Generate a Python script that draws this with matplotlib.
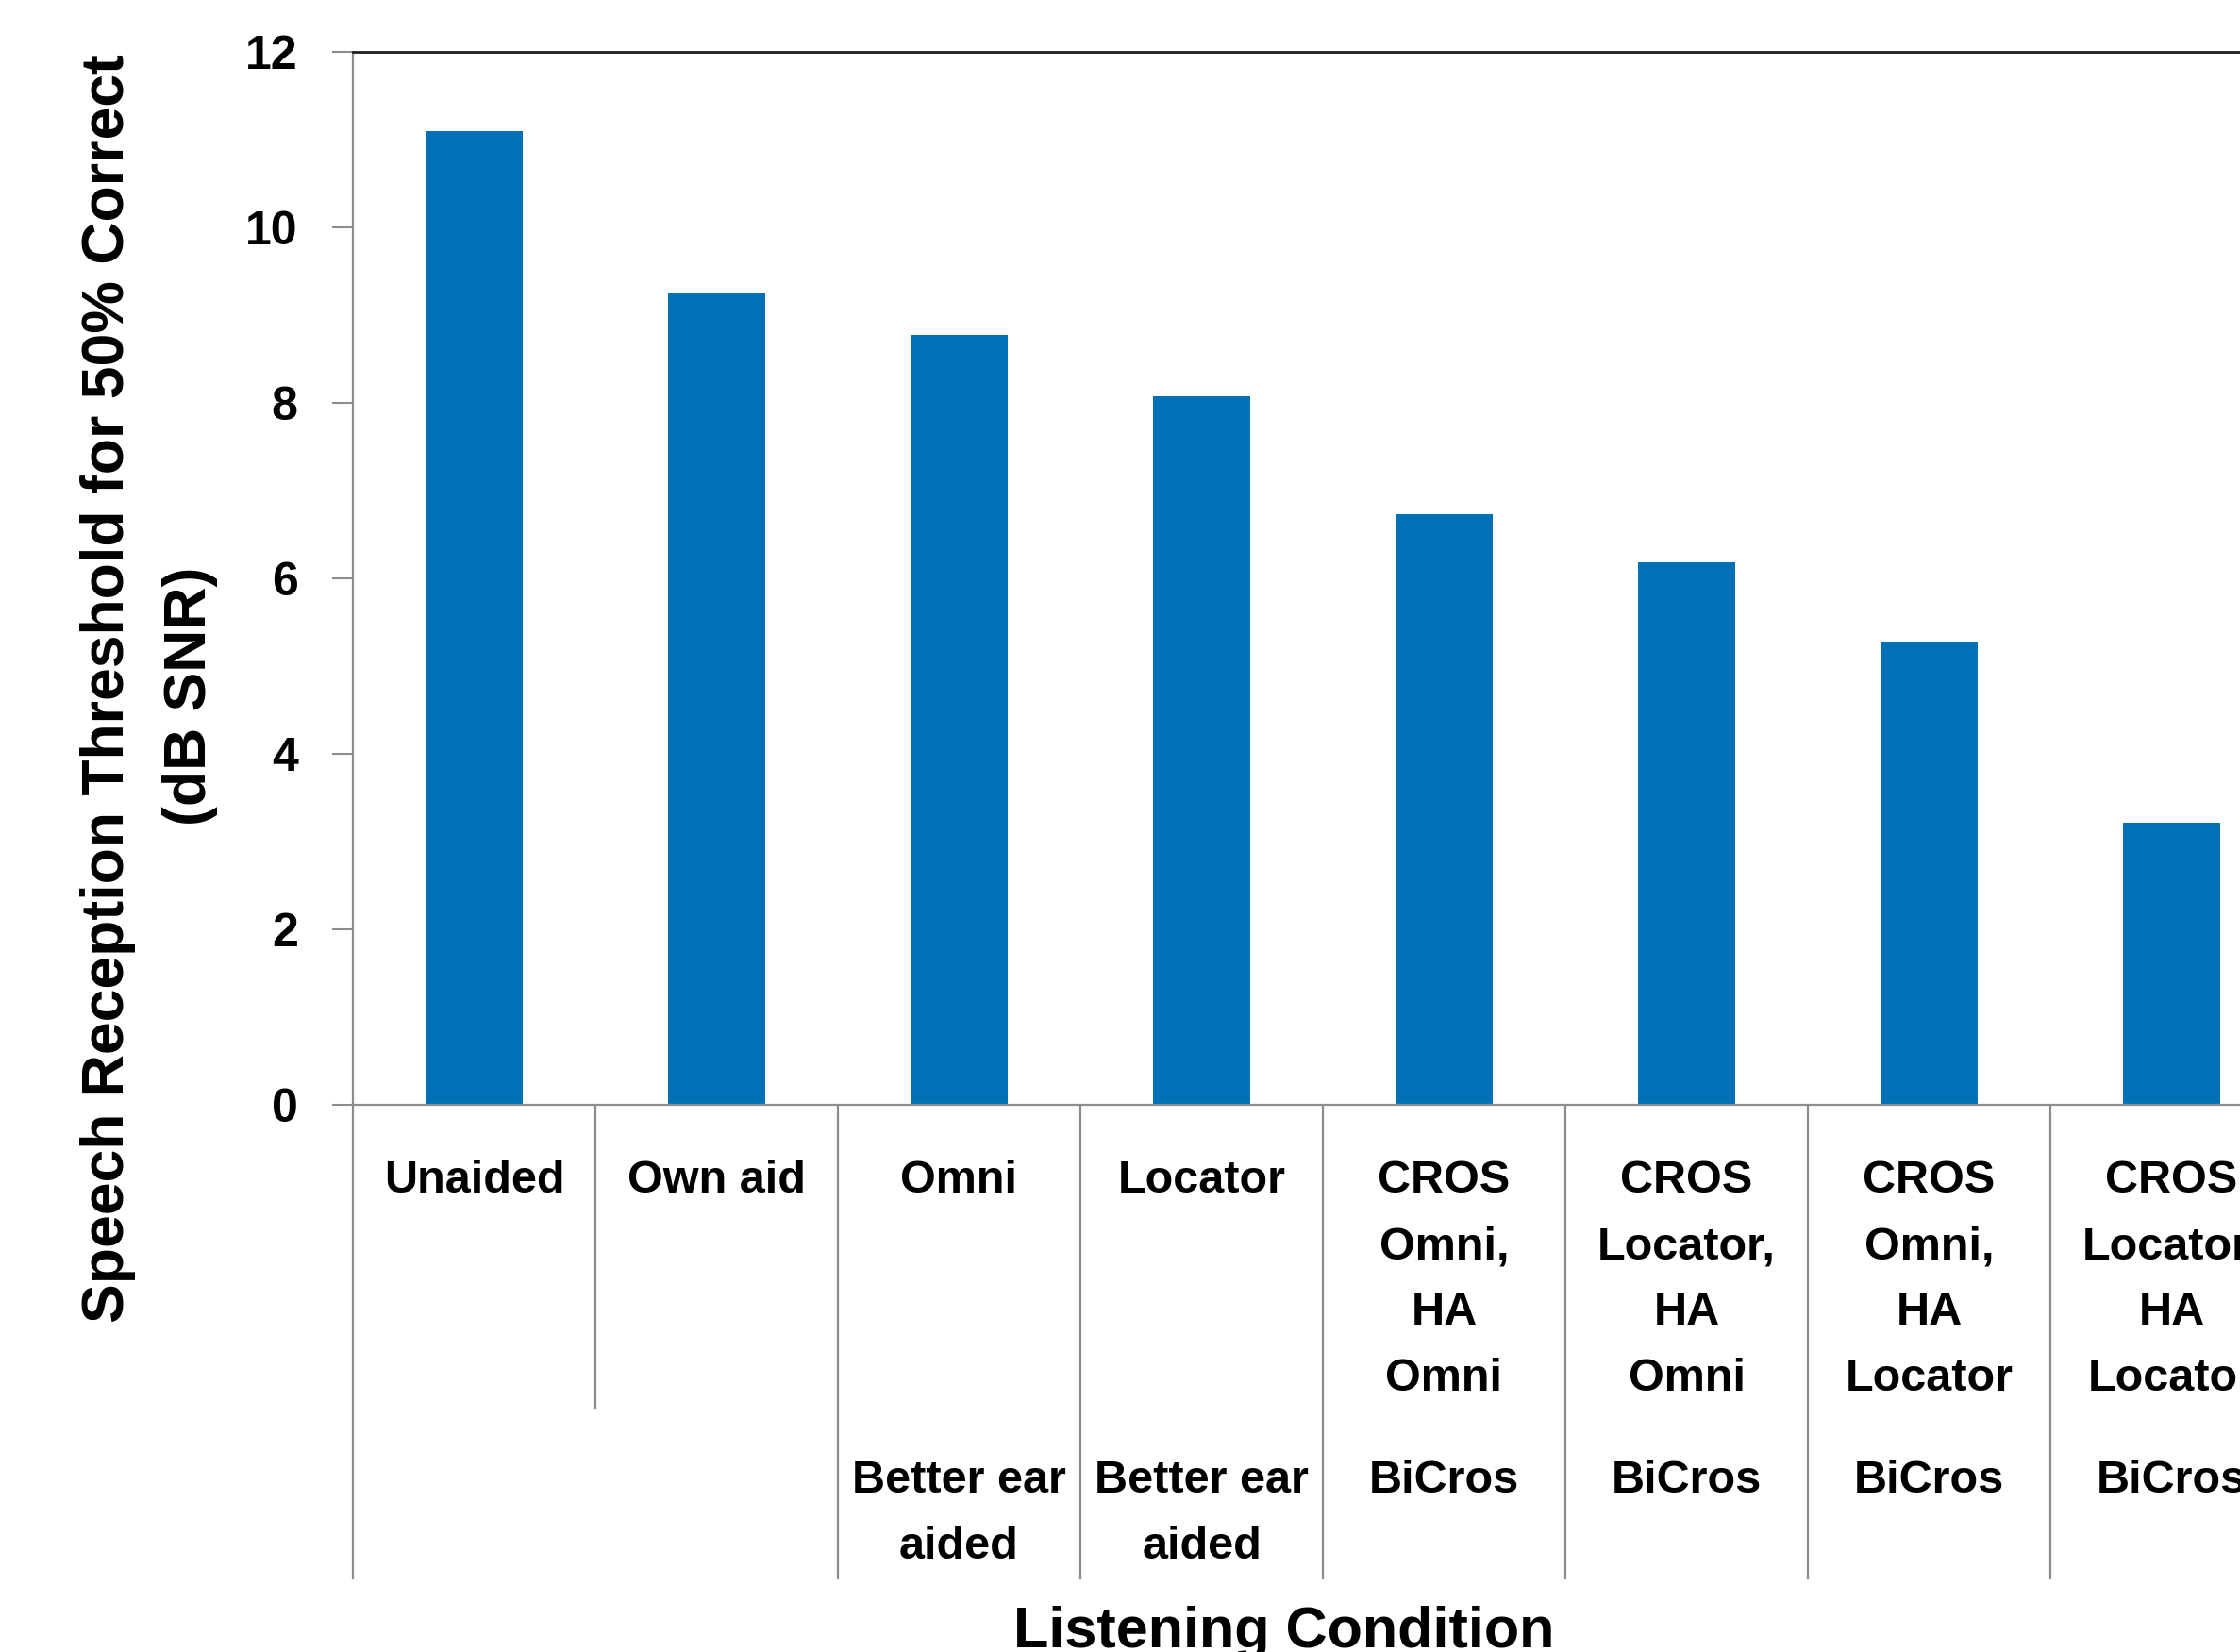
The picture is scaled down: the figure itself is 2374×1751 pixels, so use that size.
import matplotlib
matplotlib.use("Agg")
import matplotlib.pyplot as plt
import matplotlib.transforms as mtransforms

# data
conditions = [
    "Unaided", "Own aid", "Omni", "Locator",
    "CROS\nOmni,\nHA\nOmni", "CROS\nLocator,\nHA\nOmni",
    "CROS\nOmni,\nHA\nLocator", "CROS\nLocator,\nHA\nLocator",
]
# second-level category groups: (label, number of conditions spanned)
groups = [
    ("", 2),
    ("Better ear\naided", 1),
    ("Better ear\naided", 1),
    ("BiCros", 1), ("BiCros", 1), ("BiCros", 1), ("BiCros", 1),
]
srt_db = [11.1, 9.25, 8.77, 8.07, 6.73, 6.18, 5.28, 3.22]
y_ticks = [0, 2, 4, 6, 8, 10, 12]

BAR_COLOR = "#0071b7"
GREY = "#8c8c8c"
FONT = "Liberation Sans"

W, H = 2374, 1751
fig = plt.figure(figsize=(W / 100, H / 100), dpi=100)
fig.patch.set_facecolor("white")


def fy(px):
    # pixel row (from top) -> figure fraction
    return 1 - px / H


ax = fig.add_axes([374 / W, fy(1171), 2056 / W, fy(55) - fy(1171)])

x = list(range(len(conditions)))
ax.bar(x, srt_db, width=0.4, color=BAR_COLOR, zorder=1)

ax.set_xlim(-0.5, len(conditions) - 0.5)
ax.set_ylim(0, 12)
ax.set_yticks(y_ticks)
ax.set_yticklabels([str(t) for t in y_ticks], fontsize=36, fontweight="bold",
                   family=FONT)
ax.tick_params(axis="y", direction="out", length=16, width=1.5, color=GREY, pad=26)
ax.tick_params(axis="x", bottom=False, labelbottom=False)

ax.spines["left"].set_color(GREY)
ax.spines["left"].set_linewidth(1.6)
ax.spines["bottom"].set_color(GREY)
ax.spines["bottom"].set_linewidth(1.6)
ax.spines["top"].set_color("#1e1e1e")
ax.spines["top"].set_linewidth(2.0)
ax.spines["right"].set_visible(False)

# category separators below the axis (multi-level Excel style)
sep_full = fy(1673)
sep_short = fy(1492)
trans = mtransforms.blended_transform_factory(ax.transData, fig.transFigure)
base = fy(1171)

start = 0
for label, n in groups:
    ax.plot([start - 0.5, start - 0.5], [base, sep_full], transform=trans,
            color=GREY, lw=1.6, clip_on=False)
    for k in range(1, n):
        ax.plot([start + k - 0.5] * 2, [base, sep_short], transform=trans,
                color=GREY, lw=1.6, clip_on=False)
    if label:
        cx = start + (n - 1) / 2
        for j, line in enumerate(label.split("\n")):
            ax.text(cx, fy(1582 + 70 * j), line, transform=trans, ha="center",
                    va="baseline", fontsize=35, fontweight="bold", family=FONT,
                    clip_on=False)
    start += n
ax.plot([start - 0.5, start - 0.5], [base, sep_full], transform=trans,
        color=GREY, lw=1.6, clip_on=False)

for i, cond in enumerate(conditions):
    for j, line in enumerate(cond.split("\n")):
        ax.text(i, fy(1264 + 70 * j), line, transform=trans, ha="center",
                va="baseline", fontsize=35, fontweight="bold", family=FONT,
                clip_on=False)

# axis titles
fig.text(131 / W, fy(730), "Speech Reception Threshold for 50% Correct",
         rotation=90, rotation_mode="anchor", ha="center", va="baseline",
         fontsize=45, fontweight="bold", family=FONT)
fig.text(218 / W, fy(738), "(dB SNR)", rotation=90, rotation_mode="anchor",
         ha="center", va="baseline", fontsize=45, fontweight="bold", family=FONT)
fig.text(1361 / W, fy(1746), "Listening Condition", ha="center", va="baseline",
         fontsize=44, fontweight="bold", family=FONT)

fig.savefig("out.png", dpi=100, facecolor="white")
